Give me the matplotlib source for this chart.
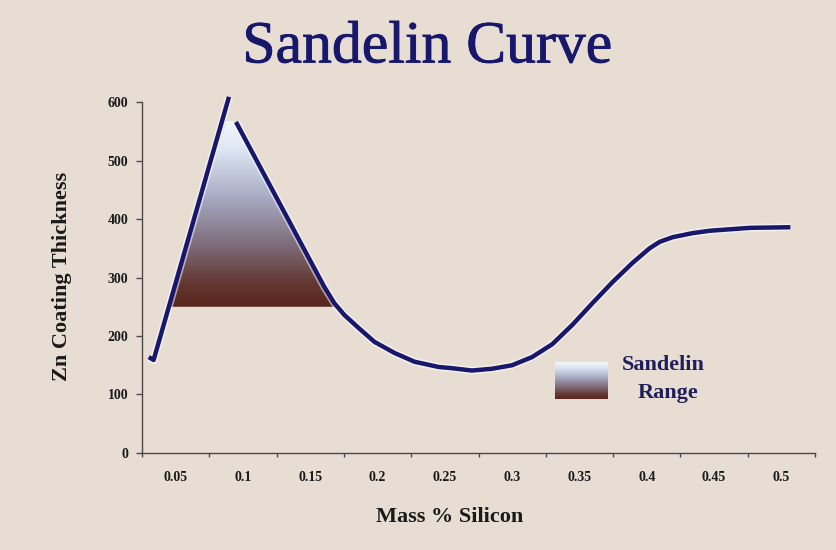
import numpy as np
import matplotlib
matplotlib.use("Agg")
import matplotlib.pyplot as plt
from matplotlib.colors import LinearSegmentedColormap
from matplotlib.path import Path
from matplotlib.patches import PathPatch
import matplotlib.patheffects as pe

# Silicon content labels (category positions) and y ticks
x_labels = ["0.05", "0.1", "0.15", "0.2", "0.25", "0.3", "0.35", "0.4", "0.45", "0.5"]
x_label_pos = [0.05, 0.10, 0.15, 0.20, 0.25, 0.30, 0.35, 0.40, 0.45, 0.50]
y_ticks = [0, 100, 200, 300, 400, 500, 600]

# Rising branch of the coating curve
rise_si = [0.030, 0.0336, 0.0896]
rise_zn = [164, 159, 609]

# Falling branch and the rest of the curve
fall_si = [0.0948, 0.1604, 0.1679, 0.1753, 0.1858, 0.1977, 0.2126, 0.2275,
           0.2455, 0.2552, 0.2701, 0.2850, 0.2999, 0.3148, 0.3298, 0.3447,
           0.3596, 0.3745, 0.3894, 0.4021, 0.4096, 0.4193, 0.4342, 0.4469,
           0.4769, 0.5067]
fall_zn = [566, 284, 256, 236, 214, 190, 171, 156,
           147, 145, 141, 144, 150, 164, 186, 219,
           256, 292, 325, 350, 361, 369, 376, 380,
           385, 386]

# Sandelin range region (outline of the shaded triangle)
range_si = [0.0449, 0.0880, 0.0948, 0.1604, 0.1700]
range_zn = [250, 568, 566, 284, 250]

BG = "#e7ddd3"
NAVY = "#17176c"
TEXT = "#1a1a1a"
SERIF = ["Liberation Serif", "DejaVu Serif"]

grad = LinearSegmentedColormap.from_list(
    "sandelin",
    [(0.0, "#57261c"), (0.12, "#633630"), (0.35, "#80707e"),
     (0.6, "#a9adc6"), (0.85, "#dde6f2"), (1.0, "#f2f7fc")])

fig = plt.figure(figsize=(8.37, 5.5), dpi=100, facecolor=BG)
ax = fig.add_axes([0.1697, 0.1764, 0.804, 0.638])
ax.set_facecolor(BG)

# Gradient-filled Sandelin range
verts = list(zip(range_si, range_zn)) + [(range_si[0], range_zn[0])]
codes = [Path.MOVETO] + [Path.LINETO] * (len(verts) - 2) + [Path.CLOSEPOLY]
clip = PathPatch(Path(verts, codes), facecolor="none", edgecolor="none")
ax.add_patch(clip)
ramp = np.linspace(0, 1, 256).reshape(-1, 1)
img = ax.imshow(ramp, cmap=grad, origin="lower", aspect="auto",
                extent=[min(range_si), max(range_si), min(range_zn), max(range_zn)],
                interpolation="bicubic", zorder=2)
img.set_clip_path(clip)

# Curve with a light halo
halo = [pe.Stroke(linewidth=5.5, foreground="white", alpha=0.55), pe.Normal()]
for xs, ys in ((rise_si, rise_zn), (fall_si, fall_zn)):
    ax.plot(xs, ys, color=NAVY, lw=3.2, solid_capstyle="butt",
            solid_joinstyle="round", clip_on=False, zorder=3, path_effects=halo)

# Axes styling
for s in ("top", "right"):
    ax.spines[s].set_visible(False)
for s in ("left", "bottom"):
    ax.spines[s].set_color("#4a4a4a")
    ax.spines[s].set_linewidth(1.0)

ax.set_yticks(y_ticks)
ax.set_yticklabels([str(v) for v in y_ticks], fontfamily=SERIF,
                   fontweight="bold", fontsize=10, color=TEXT)
ax.tick_params(axis="y", direction="out", length=4, width=1, color="#4a4a4a", pad=6)

ax.set_xticks(np.arange(0.025, 0.526, 0.05))
ax.set_xticklabels([])
ax.tick_params(axis="x", direction="out", length=3, width=1, color="#4a4a4a")

ax.set_xlim(0.025, 0.525)
ax.set_ylim(0, 600)

for pos, lab in zip(x_label_pos, x_labels):
    ax.text(pos, -30, lab, ha="center", va="top", fontfamily=SERIF,
            fontweight="bold", fontsize=10, color=TEXT)

fig.text(0.537, 0.060, "Mass % Silicon", ha="center", va="center",
         fontfamily=SERIF, fontweight="bold", fontsize=16, color=TEXT)
fig.text(0.074, 0.497, "Zn Coating Thickness", ha="center", va="center",
         rotation=90, fontfamily=SERIF, fontweight="bold", fontsize=16, color=TEXT)

fig.text(0.511, 0.912, "Sandelin Curve", ha="center", va="center",
         fontfamily=SERIF, fontsize=43, color=NAVY,
         path_effects=[pe.withStroke(linewidth=0.6, foreground=NAVY)])

# Legend swatch for the range
lx0, lx1 = 0.3321, 0.3710
ly0, ly1 = 93, 155
ax.imshow(ramp, cmap=grad, origin="lower", aspect="auto",
          extent=[lx0, lx1, ly0, ly1], interpolation="bicubic", zorder=2)
ax.text(0.4125, 150, "Sandelin", ha="center", va="center", fontfamily=SERIF,
        fontweight="bold", fontsize=16, color="#1e1e5a")
ax.text(0.4160, 103, "Range", ha="center", va="center", fontfamily=SERIF,
        fontweight="bold", fontsize=16, color="#1e1e5a")
ax.set_xlim(0.025, 0.525)
ax.set_ylim(0, 600)

fig.savefig("out.png", dpi=100, facecolor=BG)
